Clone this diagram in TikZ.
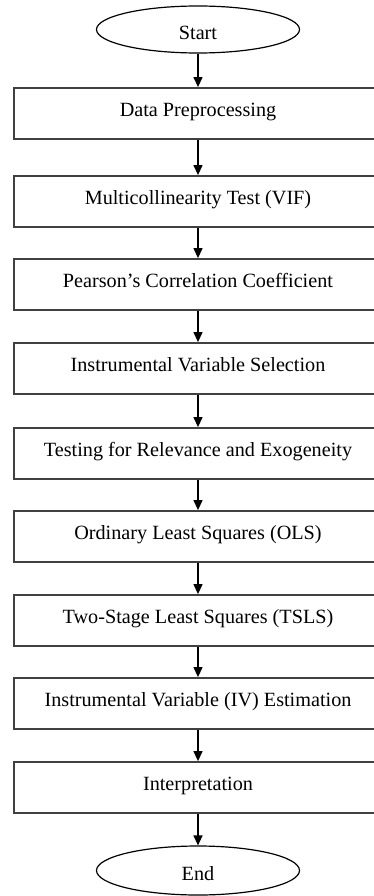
\documentclass[tikz,border=0pt]{standalone}
\usepackage{fontspec}
\setmainfont{Liberation Serif}
\usetikzlibrary{arrows.meta,shapes}

\begin{document}
\begin{tikzpicture}[x=1pt,y=-1pt,
    every node/.style={font=\fontsize{20.2}{23}\selectfont},
    terminal/.style={draw,ellipse,line width=1.2pt,minimum width=203pt,inner sep=0pt,
        text height=20pt,text depth=0pt},
    stepbox/.style={draw=black!75,line width=1.8pt,minimum width=368pt,minimum height=51pt,
        inner sep=0pt,text height=14pt,text depth=8pt},
    flow/.style={line width=1.2pt,-{Triangle[length=10pt,width=9pt]}}]
            \useasboundingbox (0,0) rectangle (374,896);
            \node[terminal,minimum height=47pt] (start) at (198,29.5) {Start};
            \node[stepbox] (prep) at (198,113.5) {Data Preprocessing};
            \node[stepbox] (vif) at (198,201.5) {Multicollinearity Test (VIF)};
            \node[stepbox] (pearson) at (198,284.5) {Pearson’s Correlation Coefficient};
            \node[stepbox] (ivsel) at (198,368.5) {Instrumental Variable Selection};
            \node[stepbox] (relexo) at (198,453.5) {Testing for Relevance and Exogeneity};
            \node[stepbox] (ols) at (198,536.5) {Ordinary Least Squares (OLS)};
            \node[stepbox] (tsls) at (198,620.5) {Two-Stage Least Squares (TSLS)};
            \node[stepbox] (ivest) at (198,703.5) {Instrumental Variable (IV) Estimation};
            \node[stepbox] (interp) at (198,787.5) {Interpretation};
            \node[terminal,minimum height=49pt] (end) at (198,870.5) {End};
            \draw[flow] (start) -- (prep);
            \draw[flow] (prep) -- (vif);
            \draw[flow] (vif) -- (pearson);
            \draw[flow] (pearson) -- (ivsel);
            \draw[flow] (ivsel) -- (relexo);
            \draw[flow] (relexo) -- (ols);
            \draw[flow] (ols) -- (tsls);
            \draw[flow] (tsls) -- (ivest);
            \draw[flow] (ivest) -- (interp);
            \draw[flow] (interp) -- (end);
        \end{tikzpicture}
\end{document}
